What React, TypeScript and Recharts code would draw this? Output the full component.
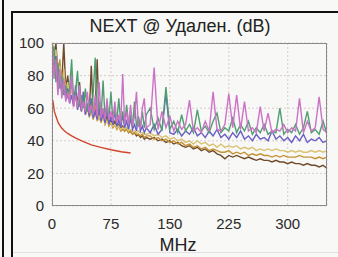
import React from 'react'
import { LineChart, Line, XAxis, YAxis, CartesianGrid } from 'recharts'

// frequency points (MHz): denser below 120 MHz where the traces are busy
const freqs: number[] = [
    1, 2.5, 5, 7.5, 10, 12.5, 15, 17.5, 20, 22.5, 25, 27.5, 30, 32.5, 35, 37.5, 40, 42.5, 45, 47.5,
    50, 52.5, 55, 57.5, 60, 62.5, 65, 67.5, 70, 72.5, 75, 77.5, 80, 82.5, 85, 87.5, 90, 92.5, 95, 97.5,
    100, 102.5, 105, 107.5, 110, 112.5, 115, 117.5, 120,
    125, 130, 135, 140, 145, 150, 155, 160, 165, 170, 175, 180, 185, 190, 195, 200, 205, 210, 215, 220,
    225, 230, 235, 240, 245, 250, 255, 260, 265, 270, 275, 280, 285, 290, 295, 300, 305, 310, 315, 320,
    325, 330, 335, 340, 345, 350,
]

const pinkVals: number[] = [
    95, 78, 90, 68, 84, 66, 78, 64, 70, 63, 80, 61, 68, 60, 74, 59, 64, 58, 70, 57,
    62, 56, 68, 55, 76, 54, 60, 53, 66, 53, 58, 52, 64, 51, 56, 51, 81, 50, 58, 50,
    62, 49, 55, 70, 49, 48, 60, 66, 48,
    50, 85, 47, 58, 48, 55, 46, 52, 47, 50, 65, 46, 48, 45, 52, 46, 70, 47, 46, 50,
    69, 48, 68, 47, 64, 46, 48, 45, 61, 46, 57, 45, 47, 46, 50, 45, 48, 46, 66, 45,
    52, 46, 48, 67, 47, 45,
]

const greenVals: number[] = [
    90, 98, 76, 88, 72, 80, 68, 74, 66, 72, 90, 63, 70, 83, 61, 68, 60, 72, 58, 65,
    57, 70, 91, 56, 64, 55, 77, 54, 62, 53, 70, 52, 60, 52, 66, 51, 58, 50, 62, 50,
    56, 49, 64, 49, 54, 48, 58, 48, 56,
    60, 47, 54, 46, 73, 47, 52, 45, 56, 46, 50, 45, 59, 46, 49, 45, 52, 57, 45, 48,
    46, 54, 45, 50, 46, 52, 44, 48, 45, 50, 44, 46, 45, 60, 44, 47, 45, 50, 44, 48,
    58, 45, 47, 44, 52, 44,
]

const blueVals: number[] = [
    88, 82, 92, 74, 80, 70, 76, 66, 72, 63, 68, 61, 74, 59, 64, 58, 70, 56, 62, 55,
    66, 54, 58, 53, 62, 52, 57, 51, 60, 50, 55, 50, 58, 49, 53, 48, 56, 48, 52, 47,
    54, 47, 50, 46, 55, 46, 49, 45, 48,
    45, 50, 44, 47, 69, 45, 44, 47, 43, 46, 44, 48, 43, 45, 42, 46, 43, 47, 42, 44,
    41, 45, 42, 46, 41, 43, 40, 44, 41, 42, 40, 46, 41, 43, 40, 42, 39, 43, 40, 44,
    39, 41, 40, 42, 39, 40,
]

const yellowVals: number[] = [
    94, 88, 96, 80, 86, 74, 84, 70, 76, 66, 72, 63, 68, 61, 66, 59, 62, 57, 61, 56,
    58, 55, 57, 53, 55, 52, 54, 51, 52, 50, 51, 49, 50, 48, 49, 47, 48, 47, 48, 46,
    47, 46, 46, 45, 46, 45, 45, 44, 44,
    45, 43, 44, 42, 43, 41, 42, 40, 41, 39, 40, 38, 40, 38, 39, 37, 38, 36, 38, 36,
    37, 36, 37, 35, 36, 35, 36, 34, 35, 34, 35, 34, 35, 34, 34, 33, 34, 33, 34, 33,
    33, 34, 33, 34, 33, 34,
]

const goldVals: number[] = [
    99, 86, 92, 78, 90, 72, 80, 68, 74, 65, 82, 62, 68, 60, 64, 58, 70, 56, 60, 55,
    58, 53, 62, 52, 55, 51, 57, 50, 53, 49, 51, 48, 50, 47, 49, 46, 47, 46, 47, 45,
    46, 44, 45, 44, 44, 43, 44, 42, 43,
    43, 41, 42, 40, 41, 39, 40, 38, 39, 37, 38, 36, 37, 35, 36, 34, 35, 34, 33, 33,
    34, 32, 33, 32, 33, 31, 32, 31, 32, 31, 31, 30, 31, 30, 31, 30, 30, 30, 31, 30,
    30, 30, 29, 30, 29, 30,
]

const brownVals: number[] = [
    97, 90, 100, 82, 86, 76, 100, 72, 80, 68, 74, 65, 70, 63, 76, 60, 66, 58, 62, 57,
    86, 55, 60, 90, 54, 53, 58, 51, 55, 50, 53, 49, 52, 48, 50, 47, 49, 46, 48, 45,
    46, 44, 45, 43, 44, 42, 43, 41, 42,
    41, 42, 40, 41, 39, 40, 38, 39, 37, 36, 37, 35, 36, 34, 35, 33, 34, 32, 31, 29,
    31, 30, 31, 30, 29, 30, 29, 28, 29, 28, 28, 27, 28, 27, 27, 26, 27, 26, 26, 25,
    26, 25, 25, 24, 25, 23,
]

// limit line
const limitFreqs: number[] = [1, 3, 5, 8, 12, 16, 20, 25, 31, 40, 50, 62, 75, 88, 100]
const limitVals: number[] = [65, 58, 55, 51, 48, 46, 44.5, 43, 41.5, 39.5, 37.5, 36, 34.5, 33.3, 32.5]

const xTicks = [0, 75, 150, 225, 300]
const yTicks = [0, 20, 40, 60, 80, 100]

const toPoints = (f: number[], v: number[]) => f.map((x, i) => ({ f: x, db: v[i] }))

const series = [
    { name: 'limit', data: toPoints(limitFreqs, limitVals), color: '#d2452e' },
    { name: 'brown', data: toPoints(freqs, brownVals), color: '#6e4a2c' },
    { name: 'gold', data: toPoints(freqs, goldVals), color: '#c49232' },
    { name: 'yellow', data: toPoints(freqs, yellowVals), color: '#d9c170' },
    { name: 'blue', data: toPoints(freqs, blueVals), color: '#6a5fc4' },
    { name: 'green', data: toPoints(freqs, greenVals), color: '#4f9e72' },
    { name: 'pink', data: toPoints(freqs, pinkVals), color: '#cc72c6' },
]

const font = '"Liberation Sans", Arial, sans-serif'

export default function App(): JSX.Element {
    return (
        <div style={{ position: 'absolute', left: 0, top: 0, width: 338, height: 257, background: '#f8f8f6', fontFamily: font, overflow: 'hidden' }}>
            {/* frame of the tester screen */}
            <div style={{ position: 'absolute', left: 2, top: 0, width: 2, height: 257, background: '#111' }} />
            <div style={{ position: 'absolute', left: 11, top: 11, width: 2, height: 246, background: '#111' }} />
            <div style={{ position: 'absolute', left: 11, top: 11, width: 327, height: 2, background: '#111' }} />
            <div style={{ position: 'absolute', left: 13, top: 252, width: 325, height: 1, background: '#e2e2e2' }} />

            <div style={{ position: 'absolute', left: 80, width: 200, top: 16, textAlign: 'center', fontSize: 18, color: '#222', whiteSpace: 'nowrap' }}>
                NEXT @ Удален. (dB)
            </div>

            <div style={{ position: 'absolute', left: 0, top: 0 }}>
                <LineChart
                    width={338}
                    height={257}
                    margin={{ top: 43, right: 11, bottom: 21, left: 12 }}
                >
                    <CartesianGrid strokeDasharray="2 2" stroke="#d9cccc" />
                    <XAxis
                        type="number"
                        dataKey="f"
                        domain={[0, 350]}
                        ticks={xTicks}
                        allowDataOverflow
                        height={30}
                        tickLine={false}
                        axisLine={false}
                        tickMargin={6}
                        tick={{ fill: '#2a2a2a', fontSize: 15, fontFamily: font }}
                    />
                    <YAxis
                        type="number"
                        domain={[0, 100]}
                        ticks={yTicks}
                        width={40}
                        allowDataOverflow
                        tickLine={false}
                        axisLine={false}
                        tick={{ fill: '#2a2a2a', fontSize: 15, fontFamily: font }}
                    />
                    {series.map(s => (
                        <Line
                            key={s.name}
                            data={s.data}
                            dataKey="db"
                            stroke={s.color}
                            strokeWidth={1.4}
                            dot={false}
                            isAnimationActive={false}
                        />
                    ))}
                </LineChart>
            </div>

            {/* plot border */}
            <div style={{ position: 'absolute', left: 52, top: 43, width: 275, height: 163, border: '1.5px solid #8a8a8a', boxSizing: 'border-box', pointerEvents: 'none' }} />

            <div style={{ position: 'absolute', left: 140, width: 76, top: 235, textAlign: 'center', fontSize: 18, color: '#222' }}>
                MHz
            </div>
        </div>
    )
}
